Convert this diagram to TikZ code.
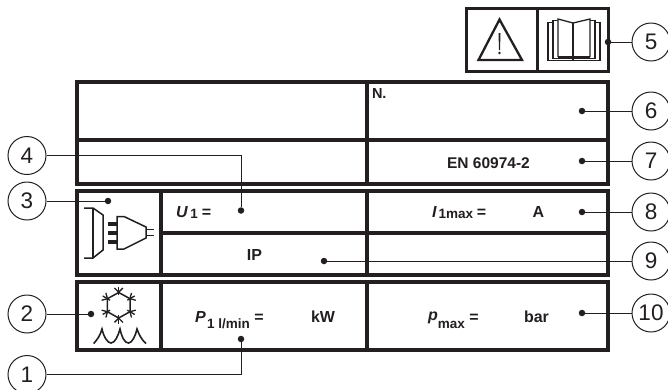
\documentclass[tikz,border=0pt]{standalone}
\usepackage{fontspec}
\setmainfont{Liberation Sans}
\definecolor{plateink}{HTML}{231F20}
\newcommand{\subfont}{\fontsize{13.5}{14}\selectfont}
\tikzset{
  cell/.style={draw=plateink, line width=3.4pt, inner sep=0pt, outer sep=0pt},
  symcell/.style={draw=plateink, line width=2.6pt, inner sep=0pt, outer sep=0pt},
  lbl/.style={anchor=base west, inner sep=0pt, outer sep=0pt, text=plateink, font=\bfseries\fontsize{16}{16}\selectfont},
  midlbl/.style={anchor=base, inner sep=0pt, outer sep=0pt, text=plateink, font=\bfseries\fontsize{16}{16}\selectfont},
  numc/.style={draw=plateink, circle, line width=1pt, minimum size=38pt, inner sep=0pt, fill=white, text=plateink, font=\fontsize{22.5}{23}\selectfont},
  tip/.style={circle, fill=plateink, minimum size=6.5pt, inner sep=0pt},
  leader/.style={draw=plateink, line width=1pt},
  icon/.style={draw=plateink, line width=1.5pt, line join=miter}
}
\begin{document}
\begin{tikzpicture}[x=1pt, y=-1pt]
        \useasboundingbox (0,0) rectangle (668,389);

        % Symbols
        \node[symcell, minimum width=71.5pt, minimum height=63pt] (warn) at (502,40) {};
        \node[symcell, minimum width=70.5pt, minimum height=63pt] (book) at (573,40) {};

        % Top plate
        \node[cell, minimum width=290pt, minimum height=58pt] (blankA) at (222,111) {};
        \node[cell, minimum width=241pt, minimum height=58pt] (serial) at (487.5,111) {};
        \node[cell, minimum width=290pt, minimum height=44pt] (blankB) at (222,162) {};
        \node[cell, minimum width=241pt, minimum height=44pt] (norm) at (487.5,162) {};

        % Supply plate
        \node[cell, minimum width=84pt, minimum height=84pt] (plug) at (119,233) {};
        \node[cell, minimum width=206pt, minimum height=42pt] (volt) at (264,212) {};
        \node[cell, minimum width=206pt, minimum height=42pt] (prot) at (264,254) {};
        \node[cell, minimum width=241pt, minimum height=42pt] (curr) at (487.5,212) {};
        \node[cell, minimum width=241pt, minimum height=42pt] (spare) at (487.5,254) {};

        % Cooling plate
        \node[cell, minimum width=84pt, minimum height=68pt] (cool) at (119,316) {};
        \node[cell, minimum width=206pt, minimum height=68pt] (flow) at (264,316) {};
        \node[cell, minimum width=241pt, minimum height=68pt] (press) at (487.5,316) {};

        % Texts
        \node[lbl, font=\bfseries\fontsize{14.5}{15}\selectfont] (serialtxt) at (372,98) {N.};
        \node[midlbl, font=\bfseries\fontsize{15.5}{16}\selectfont] (normtxt) at (488.5,168) {EN 60974-2};
        \node[midlbl] (iptxt) at (254.5,260) {IP};
        \node[midlbl] (atxt) at (538.5,217) {A};
        \node[midlbl] (kwtxt) at (323,322) {kW};
        \node[midlbl] (bartxt) at (536.5,322) {bar};
        \node[lbl] (volttxt) at (176,217) {\textit{U}\hspace{2.5pt}\raisebox{-1pt}{\subfont 1}\hspace{4pt}=};
        \node[lbl] (currtxt) at (432,217) {\textit{I}\hspace{2pt}\raisebox{-1.5pt}{\subfont 1max}\hspace{3.5pt}=};
        \node[lbl] (flowtxt) at (195,322) {\textit{P}\hspace{1.5pt}\raisebox{-6pt}{\subfont 1 l/min}\hspace{4.5pt}=};
        \node[lbl] (presstxt) at (428,320) {\textit{p}\raisebox{-8pt}{\subfont max}\hspace{4.5pt}\raisebox{-2pt}{=}};

        % Warning triangle
        \draw[icon, line width=2.3pt] (499.5,19.5) -- (522,60) -- (478.5,60) -- cycle;
        \fill[plateink] (498.5,33) -- (500.5,33) -- (500,50) -- (499,50) -- cycle;
        \fill[plateink] (499.5,53) circle (1.3pt);

        % Open book
        \draw[icon, line width=1.3pt] (558,57) -- (558,19) -- (573,23) -- (590,19) -- (590,57);
        \draw[icon, line width=1.3pt] (558,20.5) -- (553,20.5) -- (553,58.5) -- (595,58.5) -- (595,20.5) -- (590,20.5);
        \draw[icon, line width=1.3pt] (553,22.5) -- (548,22.5) -- (548,60.5) -- (600,60.5) -- (600,22.5) -- (595,22.5);
        \draw[plateink, line width=2.8pt] (573,23) -- (573,60);
        \draw[plateink, line width=2.2pt] (558,57) -- (590,57);

        % Plug and socket
        \draw[icon] (84,208) -- (93,208) -- (103,215) -- (103,250) -- (93,258) -- (84,258);
        \draw[icon] (93,208) -- (93,258);
        \foreach \y in {223.5,232.5,242}
          \draw[plateink, line width=4pt] (108,\y) -- (117,\y);
        \draw[icon] (117,216.5) -- (124,216.5) -- (146,227) -- (146,238) -- (124,249) -- (117,249) -- cycle;
        \draw[icon, line width=1.2pt] (146,229.5) -- (154,229.5);
        \draw[icon, line width=1.2pt] (146,235.5) -- (154,235.5);

        % Snowflake
        \draw[icon] (118.7,292.5) -- (130,298.7) -- (130,311.7) -- (118.7,318) -- (107.4,311.7) -- (107.4,298.7) -- cycle;
        \begin{scope}[shift={(118.7,305.2)}]
          \foreach \a in {30,90,...,330} {
            \draw[icon, line width=1.3pt] (\a:10) -- (\a:18.5);
            \draw[icon, line width=1.3pt] (\a:13) ++(\a+45:6) -- ++(\a+225:6) -- ++(\a-45:6);
          }
        \end{scope}

        % Waves
        \draw[icon, line width=1.6pt] (93.7,343.5) .. controls (97,340) and (100.5,335) .. (102,329)
          .. controls (104,338) and (108,343) .. (111,343) .. controls (115,343) and (118,336) .. (120,329)
          .. controls (122,338) and (125,343) .. (128.5,343) .. controls (132,343) and (135.5,336) .. (137,329)
          .. controls (139,335) and (142,340) .. (146,343.5);

        % Leader tips
        \node[tip] (tip1) at (241,339) {};
        \node[tip] (tip2) at (91,314) {};
        \node[tip] (tip3) at (108,201) {};
        \node[tip] (tip4) at (241,210.5) {};
        \node[tip] (tip5) at (608,42) {};
        \node[tip] (tip6) at (582,111) {};
        \node[tip] (tip7) at (582,161) {};
        \node[tip] (tip8) at (582,212) {};
        \node[tip] (tip9) at (324,261) {};
        \node[tip] (tip10) at (582,313) {};

        % Numbered circles
        \node[numc] (num1) at (27,374.5) {1};
        \node[numc] (num2) at (27,314) {2};
        \node[numc] (num3) at (27,201) {3};
        \node[numc] (num4) at (27,155.5) {4};
        \node[numc] (num5) at (651,42) {5};
        \node[numc] (num6) at (651,111) {6};
        \node[numc] (num7) at (651,161) {7};
        \node[numc] (num8) at (651,212) {8};
        \node[numc] (num9) at (651,261) {9};
        \node[numc] (num10) at (651,313) {10};

        % Leaders
        \draw[leader] (num1) -| (tip1);
        \draw[leader] (num2) -- (tip2);
        \draw[leader] (num3) -- (tip3);
        \draw[leader] (num4) -| (tip4);
        \draw[leader] (num5) -- (tip5);
        \draw[leader] (num6) -- (tip6);
        \draw[leader] (num7) -- (tip7);
        \draw[leader] (num8) -- (tip8);
        \draw[leader] (num9) -- (tip9);
        \draw[leader] (num10) -- (tip10);

    \end{tikzpicture}
\end{document}
